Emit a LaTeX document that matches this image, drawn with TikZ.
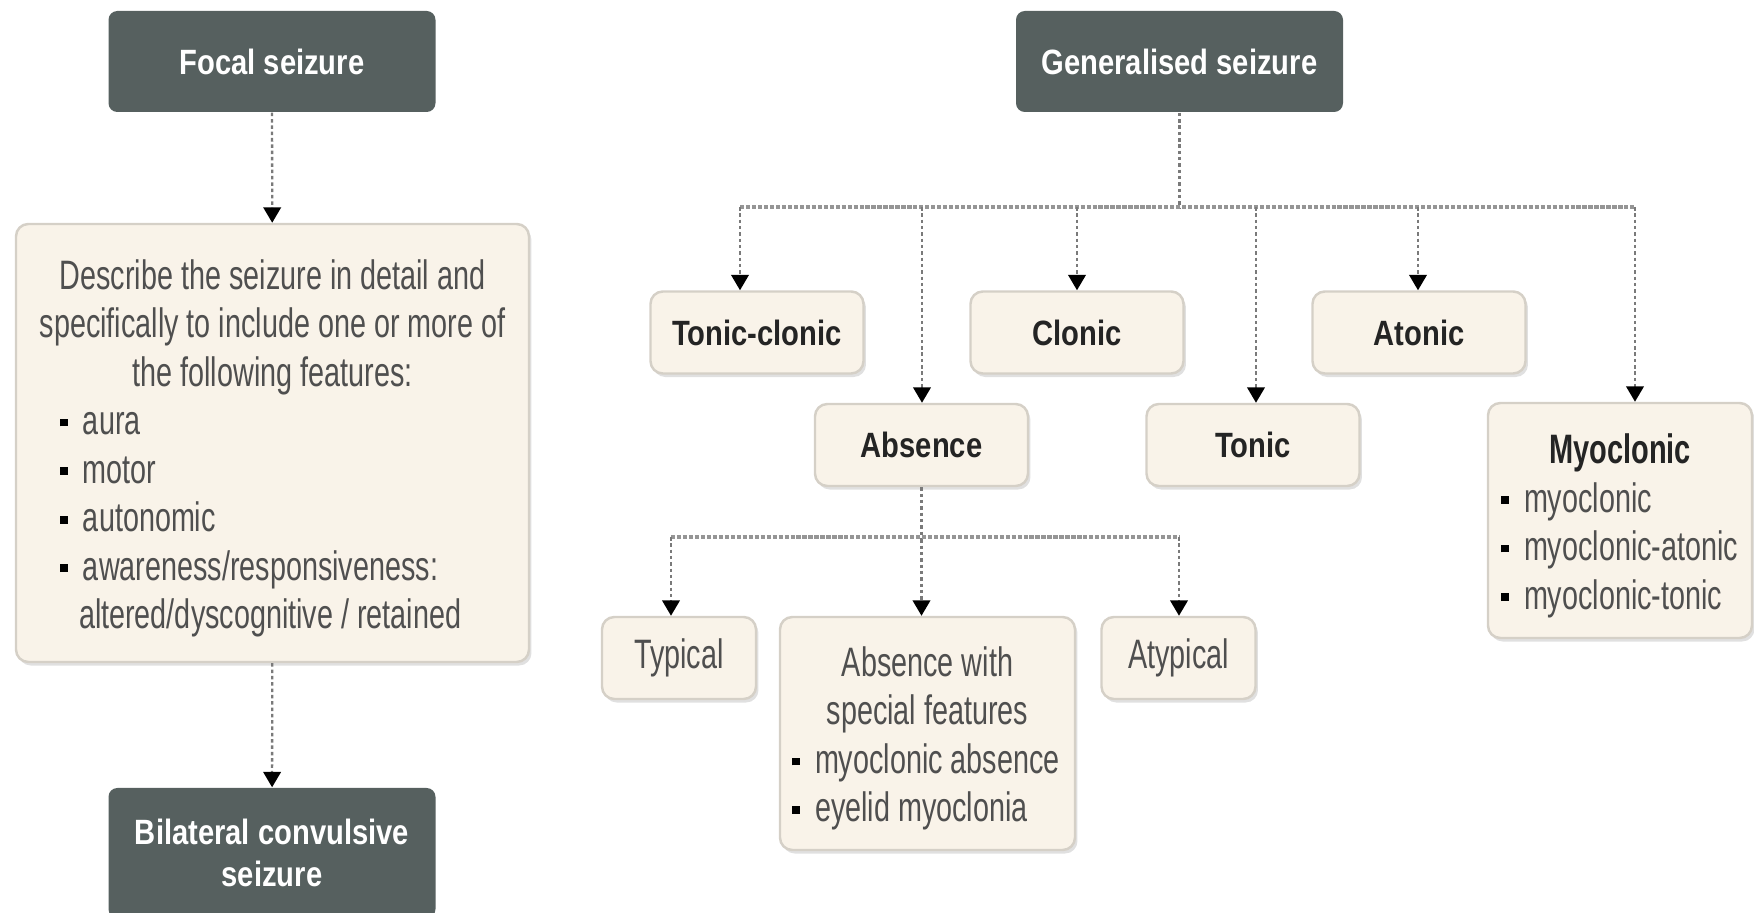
\documentclass[tikz,border=0pt]{standalone}
\usepackage{fontspec}
\setmainfont{Liberation Sans}[FakeStretch=0.70,BoldFeatures={FakeStretch=0.83}]
\usetikzlibrary{arrows.meta,shadows,calc}
\definecolor{slate}{HTML}{56605F}
\definecolor{cream}{HTML}{F9F3E9}
\definecolor{creamedge}{HTML}{D5D0C7}
\definecolor{bodytext}{HTML}{4F4F4F}
\definecolor{labeltext}{HTML}{242424}
\definecolor{linkgrey}{HTML}{7A7A7A}
\tikzstyle{headbox}=[rectangle,rounded corners=2.5pt,fill=slate,text=white,font=\bfseries,minimum width=3.27cm,minimum height=1.01cm,align=center,inner sep=0pt]
\tikzstyle{typebox}=[rectangle,rounded corners=3.5pt,fill=cream,draw=creamedge,line width=0.7pt,drop shadow={shadow xshift=0.7pt,shadow yshift=-1pt,fill=black,opacity=0.12},text=bodytext,inner sep=0pt,align=center]
\tikzstyle{namebox}=[typebox,text=labeltext,font=\bfseries,minimum width=2.13cm,minimum height=0.82cm]
\tikzstyle{listbox}=[typebox,align=flush left]
\tikzstyle{wire}=[linkgrey,line width=0.65pt,dash pattern=on 1pt off 0.8pt]
\tikzstyle{link}=[wire,-{Triangle[width=5pt,length=4.4pt,color=black]}]
\tikzstyle{bus}=[linkgrey!80,line width=1pt,dash pattern=on 1.2pt off 0.5pt]
\newcommand{\bul}{\makebox[0.23cm][l]{\textcolor{black}{\raisebox{0.2em}{\rule{2.2pt}{2.2pt}}}}}

\begin{document}
\begin{tikzpicture}[font=\fontsize{11.7}{13.8}\selectfont]
\useasboundingbox (0,0) rectangle (17.54,-9.13);

    \node[headbox] (focal) at (2.72,-0.615) {Focal seizure};
    \node[headbox] (gen) at (11.795,-0.615) {Generalised seizure};
    \node[headbox,minimum height=1.30cm] (bilat) at (2.72,-8.53) {Bilateral convulsive\\seizure};

    \node[listbox,minimum width=5.13cm,minimum height=4.38cm,text width=5.03cm] (describe) at (2.725,-4.43) {%
        \vspace*{-0.08cm}
        \centerline{Describe the seizure in detail and}
        \centerline{specifically to include one or more of}
        \centerline{the following features:}\par
        \leftskip=0.39cm
        \bul aura\par
        \bul motor\par
        \bul autonomic\par
        \bul awareness/responsiveness:\par
        \hspace*{0.19cm}altered/dyscognitive / retained\par};

    \foreach \pos/\name/\label in {{(7.57,-3.325)/tc/Tonic-clonic}, {(10.77,-3.325)/clonic/Clonic}, {(14.19,-3.325)/atonic/Atonic}}
        \node[namebox] (\name) at \pos {\label};

    \foreach \pos/\name/\label in {{(9.215,-4.45)/absence/Absence}, {(12.53,-4.45)/tonic/Tonic}}
        \node[namebox] (\name) at \pos {\label};

    \node[listbox,minimum width=2.64cm,minimum height=2.35cm,text width=2.58cm] (myo) at (16.20,-5.205) {%
        \vspace*{-0.08cm}
        \centerline{\textcolor{labeltext}{\bfseries\scalebox{0.85}[1]{Myoclonic}}}\par
        \leftskip=0.10cm
        \bul myoclonic\par
        \bul myoclonic-atonic\par
        \bul myoclonic-tonic\par};

    \foreach \pos/\name/\label in {{(6.79,-6.58)/typical/Typical}, {(11.785,-6.58)/atypical/Atypical}}
        \node[typebox,minimum width=1.54cm,minimum height=0.82cm] (\name) at \pos {\label};

    \node[listbox,minimum width=2.95cm,minimum height=2.33cm,text width=2.89cm] (special) at (9.275,-7.335) {%
        \vspace*{-0.085cm}
        \centerline{Absence with}
        \centerline{special features}\par
        \leftskip=0.09cm
        \bul myoclonic absence\par
        \bul eyelid myoclonia\par};

    \coordinate (gbus) at ([yshift=-0.95cm]gen.south);
    \foreach \name/\x in {tc/7.40, absence/9.22, clonic/10.77, tonic/12.56, atonic/14.18, myo/16.35}
        \coordinate (bus-\name) at (\x,-2.07);
    \coordinate (abus) at ([yshift=-0.52cm]absence.south);
    \coordinate (abus-typical) at (6.71,-5.37);
    \coordinate (abus-atypical) at (11.79,-5.37);

       \draw[link] (focal) to (describe);
       \draw[link] (describe) to (bilat);

       \draw[wire] (gen) to (gbus);
       \draw[bus] (bus-tc) to (bus-myo);
       \draw[link] (bus-tc) to (bus-tc |- tc.north);
       \draw[link] (bus-absence) to (bus-absence |- absence.north);
       \draw[link] (bus-clonic) to (bus-clonic |- clonic.north);
       \draw[link] (bus-tonic) to (bus-tonic |- tonic.north);
       \draw[link] (bus-atonic) to (bus-atonic |- atonic.north);
       \draw[link] (bus-myo) to (bus-myo |- myo.north);

       \draw[wire] (absence) to (abus);
       \draw[bus] (abus-typical) to (abus-atypical);
       \draw[link] (abus-typical) to (abus-typical |- typical.north);
       \draw[link] (abus) to (abus |- special.north);
       \draw[link] (abus-atypical) to (abus-atypical |- atypical.north);

\end{tikzpicture}
\end{document}
